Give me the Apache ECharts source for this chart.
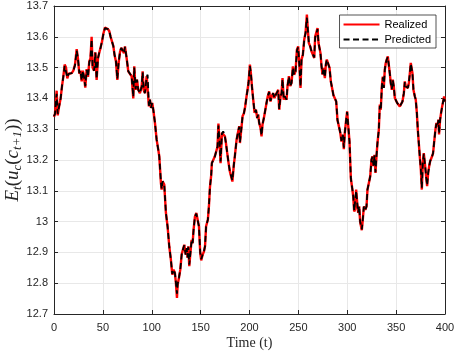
<!DOCTYPE html>
<html>
<head>
<meta charset="utf-8">
<script src="https://cdn.jsdelivr.net/npm/echarts@6/dist/echarts.min.js"></script>
<style>
  html, body { margin: 0; padding: 0; background: #ffffff; }
  #chart { width: 455px; height: 357px; }
</style>
</head>
<body>
<div id="chart"></div>
<script>
// Time index of each observation
const time = [
  0, 1, 2.7, 3.8, 5, 6.8, 8.2, 9.5, 10.9, 12.3, 13.6, 15, 16.4, 18.1, 19.8, 21.5, 23.2, 24.5, 25.9, 27,
  28.3, 29.5, 30.7, 32, 33.4, 34.8, 36.1, 37.3, 38.5, 39.5, 41, 42.3, 43.6, 45, 46.4, 47.7, 49.1, 50.5, 52.1, 53.8,
  55.2, 56.6, 57.9, 59.3, 60.7, 62, 63.4, 64.8, 66.1, 67.5, 68.8, 70.2, 71.6, 72.6, 74.3, 76, 77.7, 79.4, 81.1, 82.1,
  83.5, 84.9, 86.2, 87.9, 89.7, 90.7, 91.7, 93, 94.8, 95.8, 97.1, 98.2, 99.2, 100.5, 101.6, 103.3, 105, 106.7, 107.7, 108.7,
  109.4, 110.1, 111.1, 112.8, 113.5, 114.5, 116.2, 117.9, 119.6, 121, 122.3, 123.7, 124.7, 125.8, 126.5, 127.8, 129.2, 130.6, 131.9, 133.3,
  134.7, 135.7, 136.7, 137.4, 138.4, 139.4, 140.8, 141.8, 142.8, 144.2, 145.6, 146.9, 148.3, 149.6, 150.6, 152, 153.4, 154.5, 155.6, 157.4,
  158.5, 159.5, 160.8, 161.5, 162.9, 164.6, 166.3, 167.3, 168.2, 169.2, 170.4, 171.8, 173.1, 174.8, 175.9, 177.2, 178.6, 179.9, 181.3, 182.5,
  184, 185, 186.8, 188.1, 189.5, 190.2, 191.9, 192.9, 194.3, 195.6, 197, 198, 199, 200.4, 201.4, 202.5, 203.8, 205.2, 206.6, 207.9,
  208.9, 209.9, 211.3, 212.3, 213.3, 214.7, 216, 217.4, 218.7, 220.1, 221.5, 222.8, 224.2, 225.5, 226.9, 228.3, 229.4, 230.4, 231.8, 232.8,
  233.8, 235, 236, 237.9, 238.9, 240.3, 241.6, 243, 244.4, 245.7, 247.1, 248.5, 249.8, 251.2, 252.2, 253.2, 254.6, 256, 257.3, 258.7,
  259.7, 260.7, 262.1, 263.4, 264.8, 266.2, 267.2, 268.2, 269.6, 270.6, 271.6, 272.6, 273.7, 274.7, 275.7, 277.1, 278.1, 279.1, 280.5, 281.9,
  283.2, 284.5, 285.9, 287.3, 288.7, 290, 291.4, 292.8, 294.1, 295.5, 296.5, 297.5, 298.9, 299.9, 300.9, 302.3, 303.7, 305, 306.1, 307.1,
  308.1, 309.1, 310.2, 311.2, 312.2, 313.2, 314.2, 314.9, 315.9, 317, 318.4, 319.7, 320.7, 322.1, 323.5, 324.8, 325.8, 326.9, 327.9, 328.9,
  329.9, 330.9, 332.3, 333.3, 334.3, 335.4, 336.4, 337.4, 338.4, 339.4, 340.4, 341.5, 342.5, 343.5, 344.5, 345.6, 346.6, 347.6, 348.7, 349.7,
  351.1, 352.4, 353.8, 355.1, 356.5, 357.9, 358.9, 359.9, 361, 362, 363, 363.9, 365, 365.7, 366.7, 367.7, 369.1, 370.1, 371.2, 372.2,
  373.2, 374.2, 375.3, 376.3, 377.3, 378.3, 379.7, 380.7, 381.7, 382.8, 383.8, 384.8, 385.8, 386.8, 387.8, 388.8, 390.2, 391.2, 392.2, 393.3,
  393.9, 395, 396, 397.1, 398.1, 399.1, 400
];

// Realized expected marginal utility
const realized = [
  13.34, 13.35, 13.425, 13.345, 13.37, 13.40, 13.44, 13.47, 13.51, 13.50, 13.465, 13.48, 13.477, 13.482, 13.49, 13.51, 13.56, 13.53, 13.48, 13.49,
  13.455, 13.49, 13.47, 13.435, 13.495, 13.47, 13.52, 13.53, 13.60, 13.50, 13.49, 13.55, 13.46, 13.53, 13.55, 13.565, 13.585, 13.61, 13.63, 13.634,
  13.625, 13.618, 13.60, 13.585, 13.57, 13.54, 13.52, 13.46, 13.515, 13.55, 13.564, 13.57, 13.547, 13.569, 13.531, 13.488, 13.482, 13.472, 13.40, 13.504,
  13.428, 13.461, 13.428, 13.417, 13.439, 13.488, 13.428, 13.417, 13.472, 13.477, 13.374, 13.396, 13.369, 13.385, 13.363, 13.32, 13.266, 13.233, 13.212, 13.206,
  13.125, 13.104, 13.131, 13.12, 13.082, 13.028, 12.984, 12.92, 12.876, 12.828, 12.844, 12.833, 12.801, 12.752, 12.795, 12.817, 12.844, 12.893, 12.909, 12.925,
  12.893, 12.914, 12.882, 12.92, 12.855, 12.893, 12.941, 12.93, 12.974, 13.017, 13.028, 13.022, 12.984, 12.898, 12.874, 12.892, 12.903, 12.92, 12.985, 13.006,
  13.05, 13.11, 13.15, 13.19, 13.20, 13.212, 13.217, 13.244, 13.318, 13.266, 13.19, 13.288, 13.293, 13.277, 13.255, 13.223, 13.19, 13.163, 13.158, 13.13,
  13.185, 13.212, 13.266, 13.288, 13.31, 13.255, 13.309, 13.342, 13.352, 13.374, 13.407, 13.428, 13.45, 13.51, 13.482, 13.439, 13.396, 13.353, 13.363, 13.336,
  13.347, 13.32, 13.304, 13.277, 13.315, 13.336, 13.342, 13.385, 13.407, 13.423, 13.39, 13.407, 13.417, 13.401, 13.412, 13.41, 13.428, 13.363, 13.407, 13.417,
  13.466, 13.396, 13.407, 13.396, 13.44, 13.472, 13.44, 13.45, 13.504, 13.477, 13.488, 13.558, 13.569, 13.499, 13.434, 13.526, 13.542, 13.591, 13.612, 13.672,
  13.623, 13.58, 13.569, 13.553, 13.558, 13.531, 13.601, 13.607, 13.628, 13.58, 13.574, 13.547, 13.504, 13.477, 13.499, 13.466, 13.51, 13.526, 13.531, 13.499,
  13.455, 13.45, 13.41, 13.412, 13.39, 13.33, 13.31, 13.29, 13.26, 13.282, 13.235, 13.288, 13.331, 13.358, 13.315, 13.26, 13.14, 13.11, 13.082, 13.033,
  13.04, 13.104, 13.06, 13.028, 13.05, 12.999, 12.999, 12.972, 13.006, 13.049, 13.038, 13.049, 13.104, 13.125, 13.147, 13.201, 13.212, 13.18, 13.217, 13.158,
  13.212, 13.255, 13.298, 13.38, 13.363, 13.439, 13.471, 13.434, 13.493, 13.515, 13.526, 13.536, 13.509, 13.482, 13.45, 13.428, 13.461, 13.439, 13.401, 13.396,
  13.385, 13.38, 13.374, 13.369, 13.39, 13.417, 13.455, 13.439, 13.444, 13.434, 13.45, 13.477, 13.515, 13.52, 13.482, 13.428, 13.407, 13.396, 13.353, 13.298,
  13.255, 13.212, 13.168, 13.104, 13.19, 13.222, 13.18, 13.147, 13.115, 13.158, 13.18, 13.196, 13.201, 13.212, 13.222, 13.255, 13.298, 13.32, 13.309, 13.331,
  13.283, 13.331, 13.353, 13.374, 13.39, 13.406, 13.39
];

// Model prediction of the same quantity
const predicted = [
  13.342, 13.35, 13.415, 13.35, 13.37, 13.40, 13.44, 13.47, 13.505, 13.50, 13.468, 13.48, 13.477, 13.482, 13.49, 13.508, 13.555, 13.53, 13.482, 13.49,
  13.458, 13.49, 13.47, 13.44, 13.492, 13.47, 13.518, 13.53, 13.592, 13.50, 13.49, 13.548, 13.463, 13.53, 13.55, 13.565, 13.585, 13.608, 13.628, 13.632,
  13.625, 13.618, 13.60, 13.585, 13.57, 13.54, 13.52, 13.463, 13.515, 13.55, 13.564, 13.57, 13.547, 13.567, 13.531, 13.488, 13.482, 13.472, 13.405, 13.5,
  13.43, 13.461, 13.428, 13.417, 13.439, 13.485, 13.43, 13.417, 13.47, 13.477, 13.376, 13.396, 13.369, 13.385, 13.363, 13.32, 13.266, 13.233, 13.212, 13.206,
  13.128, 13.106, 13.131, 13.12, 13.082, 13.028, 12.984, 12.92, 12.876, 12.83, 12.844, 12.833, 12.803, 12.766, 12.797, 12.817, 12.844, 12.893, 12.909, 12.923,
  12.893, 12.914, 12.884, 12.918, 12.86, 12.893, 12.94, 12.93, 12.974, 13.017, 13.026, 13.022, 12.984, 12.9, 12.878, 12.892, 12.903, 12.92, 12.985, 13.006,
  13.05, 13.11, 13.15, 13.19, 13.20, 13.212, 13.217, 13.244, 13.312, 13.266, 13.195, 13.286, 13.293, 13.277, 13.255, 13.223, 13.19, 13.163, 13.158, 13.134,
  13.185, 13.212, 13.266, 13.288, 13.308, 13.258, 13.309, 13.342, 13.352, 13.374, 13.407, 13.428, 13.45, 13.505, 13.482, 13.439, 13.396, 13.355, 13.363, 13.336,
  13.347, 13.32, 13.304, 13.28, 13.315, 13.336, 13.342, 13.385, 13.407, 13.421, 13.392, 13.407, 13.417, 13.401, 13.412, 13.41, 13.426, 13.366, 13.407, 13.417,
  13.462, 13.398, 13.407, 13.396, 13.44, 13.47, 13.44, 13.45, 13.5, 13.477, 13.488, 13.555, 13.566, 13.499, 13.438, 13.524, 13.542, 13.59, 13.612, 13.662,
  13.623, 13.58, 13.569, 13.553, 13.558, 13.533, 13.598, 13.607, 13.625, 13.58, 13.574, 13.547, 13.504, 13.479, 13.499, 13.468, 13.51, 13.526, 13.53, 13.499,
  13.455, 13.45, 13.41, 13.412, 13.39, 13.33, 13.31, 13.29, 13.262, 13.282, 13.24, 13.288, 13.331, 13.356, 13.315, 13.26, 13.14, 13.11, 13.084, 13.036,
  13.04, 13.1, 13.06, 13.03, 13.05, 13.0, 12.999, 12.975, 13.006, 13.049, 13.038, 13.049, 13.104, 13.125, 13.147, 13.201, 13.21, 13.182, 13.215, 13.16,
  13.212, 13.255, 13.298, 13.376, 13.363, 13.437, 13.468, 13.434, 13.493, 13.515, 13.526, 13.534, 13.509, 13.482, 13.45, 13.43, 13.459, 13.439, 13.401, 13.396,
  13.385, 13.38, 13.374, 13.369, 13.39, 13.417, 13.453, 13.439, 13.444, 13.434, 13.45, 13.477, 13.513, 13.518, 13.482, 13.43, 13.407, 13.396, 13.353, 13.298,
  13.255, 13.212, 13.17, 13.11, 13.19, 13.22, 13.18, 13.147, 13.118, 13.158, 13.18, 13.196, 13.201, 13.212, 13.222, 13.255, 13.298, 13.318, 13.309, 13.33,
  13.286, 13.331, 13.353, 13.374, 13.39, 13.404, 13.39
];

const seriesNames = ['Realized', 'Predicted'];
const xRange = { min: 0, max: 400, step: 50 };
const yRange = { min: 12.7, max: 13.7, step: 0.1 };

const ink = '#262626';
const gridGray = '#e8e8e8';

const pairs = (ys) => time.map((t, i) => [t, ys[i]]);

const frameAxis = {
  axisLine: { show: true, onZero: false, lineStyle: { color: ink, width: 1 } },
  axisTick: { show: true, inside: true, length: 4, lineStyle: { color: ink, width: 1 } },
  axisLabel: { show: false },
  splitLine: { show: false }
};

const chart = echarts.init(document.getElementById('chart'), null, { renderer: 'canvas' });

chart.setOption({
  animation: false,
  backgroundColor: '#ffffff',
  grid: { left: 54, right: 10, top: 6, bottom: 43, containLabel: false, outerBoundsMode: 'none' },
  legend: {
    data: seriesNames,
    orient: 'vertical',
    right: 19,
    top: 15,
    itemWidth: 36,
    itemHeight: 10,
    itemGap: 4,
    padding: [4, 5, 3, 3],
    borderColor: ink,
    borderWidth: 0.8,
    backgroundColor: '#ffffff',
    itemStyle: { opacity: 0 },
    textStyle: { fontFamily: 'Liberation Sans, Arial, sans-serif', fontSize: 11, color: '#000000' }
  },
  xAxis: [
    {
      type: 'value',
      position: 'bottom',
      min: xRange.min, max: xRange.max, interval: xRange.step,
      name: 'Time (t)',
      nameLocation: 'middle',
      nameGap: 22,
      nameMoveOverlap: false,
      nameTextStyle: { fontFamily: 'Liberation Serif, serif', fontSize: 14, color: ink },
      axisLine: { show: true, onZero: false, lineStyle: { color: ink, width: 1 } },
      axisTick: { show: true, inside: true, length: 4, lineStyle: { color: ink, width: 1 } },
      axisLabel: { show: true, margin: 8, fontFamily: 'Liberation Sans, Arial, sans-serif', fontSize: 11, color: ink },
      splitLine: { show: true, lineStyle: { color: gridGray, width: 1 } }
    },
    Object.assign({ type: 'value', position: 'top', min: xRange.min, max: xRange.max, interval: xRange.step }, frameAxis)
  ],
  yAxis: [
    {
      type: 'value',
      position: 'left',
      min: yRange.min, max: yRange.max, interval: yRange.step,
      name: '{i|E}{s|t}{n|(}{i|u}{s|c}{n|(}{i|c}{s|t+1}{n|))}',
      nameLocation: 'middle',
      nameRotate: 90,
      nameGap: 30,
      nameMoveOverlap: false,
      nameTextStyle: {
        color: ink,
        rich: {
          i: { fontFamily: 'Liberation Serif, serif', fontStyle: 'italic', fontSize: 19, color: ink },
          n: { fontFamily: 'Liberation Serif, serif', fontSize: 19, color: ink },
          s: { fontFamily: 'Liberation Serif, serif', fontStyle: 'italic', fontSize: 13, color: ink, padding: [9, 0, 0, 0] }
        }
      },
      axisLine: { show: true, onZero: false, lineStyle: { color: ink, width: 1 } },
      axisTick: { show: true, inside: true, length: 4, lineStyle: { color: ink, width: 1 } },
      axisLabel: {
        show: true, margin: 6,
        fontFamily: 'Liberation Sans, Arial, sans-serif', fontSize: 11, color: ink,
        formatter: (v) => String(+v.toFixed(1))
      },
      splitLine: { show: true, lineStyle: { color: gridGray, width: 1 } }
    },
    Object.assign({ type: 'value', position: 'right', min: yRange.min, max: yRange.max, interval: yRange.step }, frameAxis)
  ],
  series: [
    {
      name: seriesNames[0],
      type: 'line',
      xAxisIndex: 0, yAxisIndex: 0,
      data: pairs(realized),
      showSymbol: false, symbol: 'none',
      lineStyle: { color: '#ff0000', width: 2.4 },
      itemStyle: { color: '#ff0000' },
      z: 2
    },
    {
      name: seriesNames[1],
      type: 'line',
      xAxisIndex: 0, yAxisIndex: 0,
      data: pairs(predicted),
      showSymbol: false, symbol: 'none',
      lineStyle: { color: '#000000', width: 1.8, type: [6, 3.5] },
      itemStyle: { color: '#000000' },
      z: 3
    }
  ]
});
</script>
</body>
</html>
